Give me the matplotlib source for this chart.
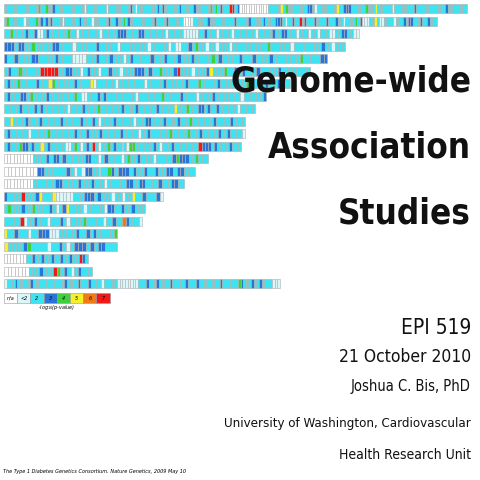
import matplotlib.pyplot as plt
from matplotlib.patches import Rectangle
from matplotlib import font_manager

# colour classes of -log10(p): w=n/a, p=<2, c=2, b=3, g=4, y=5, o=6, r=7
colors = {'w': '#ffffff', 'p': '#d9f7fb', 'c': '#3de3f0', 'b': '#2a74d6',
          'g': '#3fd13a', 'y': '#f4f02a', 'o': '#f07a1a', 'r': '#f01818'}
legend_keys = ['w', 'p', 'c', 'b', 'g', 'y', 'o', 'r']
legend_labels = ['n/a', '<2', '2', '3', '4', '5', '6', '7']

# right end (px) of each chromosome row, 1..22, X
row_ends = [467, 437, 359, 345, 327, 310, 290, 266, 255, 245, 245, 241,
            208, 195, 184, 163, 145, 142, 117, 117, 88, 92, 280]

rows = [
    "c14 g1 c2 g1 c2 b1 c12 p1 c8 p1 c9 b1 c1 p1 c8 b1 c1 b1 c6 b1 c5 b1 c6 g1 c1 g1 c1 b1 c3 r2 c1 b1 w12 c5 y1 c1 g1 c8 b2 c1 p1 c8 y1 c2 b3 c6 g1 c3 y1 c6 p1 c8 b1 c12 b1 c8",
    "c1 g1 c6 p1 c4 g1 c1 b1 c1 b1 c1 b1 c4 p1 c6 b1 c4 p1 c6 b1 c2 b1 c2 g1 c1 b1 c10 b1 c4 b1 c6 w3 p1 c6 b1 c10 b1 c5 b1 c5 b1 c4 b3 c1 p1 c2 b1 c2 r1 c1 b1 c3 b1 c4 b1 c3 b1 c2 p1 c4 g1 c1 b1 p3 c2 y1 c1 p2 c4 p1 c3 b1 c1 b2 c3 b1 c2 b1 c3",
    "c2 g1 c4 b1 c2 b1 p2 c1 b1 c6 g1 c2 p1 c7 p1 c5 b3 c4 b2 c7 p1 c5 p5 c2 b1 c3 p1 c4 p1 c7 p1 c5 b1 c2 b2 c3 p1 c3 p1 c2 p1 c3 p2 c2 b2 c2 p2",
    "b3 c1 b2 c2 g1 c5 b2 c4 p1 c6 b1 c5 p1 c8 p1 c5 p1 c1 p2 c2 b1 c1 g1 c2 p1 c2 p1 c3 p1 c10 g1 c6 p1 c5 c3 b1 c2 p1 c3",
    "b1 c2 b1 c4 b2 c5 b1 c4 p4 c3 b1 c3 b1 c3 p1 c1 b1 c5 b1 c3 b1 c3 b1 c3 b1 c5 g1 c1 b1 c5 b1 c3 b1 c4 b1 c8 g1 c5 b2",
    "c1 b1 c2 g1 c5 r5 c2 b2 c2 p1 c1 b1 c2 p1 c2 b1 c2 p1 c3 b3 c1 b1 c2 g1 c3 b1 r1 c3 p1 c3 b1 y1 c3 g1 c2 b1 c1 b1 c3 b1 c5 b1 c8",
    "c1 b1 c2 g1 c5 b1 c3 y1 g1 c6 b1 c4 y1 p1 c6 p1 c4 c4 p1 c5 b1 c6 b1 c3 g1 c5 b1 c4 c4 g1 c5 b1 c3 b1 c3",
    "c1 b1 c3 b2 c1 g1 c4 b1 c8 g1 c1 p2 c3 b1 c1 b1 c5 c4 p1 c7 g1 c5 b1 c4 p1 c4 b1 c8 p1 c6 b1",
    "c5 b1 c4 b1 c1 b1 c8 p1 c4 b1 c4 g1 c7 b1 c4 b1 c6 b1 c5 y1 c3 g1 c3 b2 c1 b1 c2 b1 c6 p1 c5",
    "c2 y1 c4 b1 c4 b1 c6 b1 c6 b1 c3 b1 c1 p1 c4 b1 c6 p1 c3 b2 c4 b1 c4 b1 c3 g1 c7 b1 c5 b1 c4",
    "c1 b1 c6 p1 c5 g1 c8 b1 c3 b1 c3 b1 c6 b1 c5 p1 c2 b1 c6 g1 c5 g1 c3 b1 c5 b1 c2 b1 c4 p1",
    "c1 b1 c3 g1 b2 c1 b1 c2 y1 c1 b1 c5 p2 c1 g1 c1 p1 c1 b1 c1 r1 c1 p1 c2 g1 c1 b1 c3 p1 g2 c6 b1 c1 p1 c3 b1 c4 c4 r1 b3 c1 b1 c4 b1 c3",
    "w9 c4 b1 c1 b2 c1 b1 c6 b2 c2 p1 c1 b1 c4 p1 c1 g1 c2 b1 c4 p1 c3 c2 b1 g1 b3 c2 g1 c3",
    "w9 b2 c6 b1 c1 p1 c1 p1 b2 c4 g1 b1 c1 b3 c1 b1 c2 b1 c2 b1 c2 b2 c1 b2 c3",
    "w9 c7 b2 c5 b1 c3 b1 c3 p1 c3 c3 b2 c2 b2 c4 b1 c3 b2 c2",
    "b1 c4 r1 c3 b1 y1 c3 y1 p5 c3 b3 c1 b1 c3 p1 c2 p1 c2 y1 c2 b1 c3 b1 p1",
    "c1 g1 c3 b1 c2 g1 c4 b1 c1 p1 c1 b1 y1 c4 p1 c3 c2 p1 b2 c2 b1 c2 b1 c3",
    "c5 r1 p1 c2 b1 c3 p1 c3 b1 c1 p1 c4 g1 c5 p1 c2 b1 c2 o1 b1 c3 p1",
    "y1 c2 b1 c3 p1 c2 b3 p3 c5 b1 c2 b1 c1 b1 c5 g1",
    "y1 c4 b1 g1 c4 p1 c2 b1 c1 p1 c1 b3 c1 b1 c1 b2 c3",
    "w7 c2 b1 c2 b1 c2 b1 c2 b1 c2 b1 c2 r1 b1 c1",
    "w7 c3 b1 c3 r1 g1 c1 b1 c1 p1 c1 b1 c3",
    "p1 c3 b1 c5 b1 c12 b1 c4 b1 c3 b1 c4 p1 c5 p8 c3 b1 c3 b1 c4 b1 c5 b1 c3 b1 c3 c5 b1 c6 g1 b1 c3 b1 c2 b1 c4 p3",
]


def parse(s):
    cells = []
    for tok in s.split():
        cells += [tok[0]] * int(tok[1:])
    return cells


fig = plt.figure(figsize=(4.8, 4.8), dpi=100)
ax = fig.add_axes([0, 0, 1, 1])
ax.set_xlim(0, 480)
ax.set_ylim(480, 0)
ax.axis('off')

x0 = 4
for i, (s, end) in enumerate(zip(rows, row_ends)):
    cells = parse(s)
    w = (end - x0) / len(cells)
    y = 4 + i * 12.5
    for j, k in enumerate(cells):
        ax.add_patch(Rectangle((x0 + j * w, y), w, 9, facecolor=colors[k],
                               edgecolor='#b0b0b0', linewidth=0.4))

# legend
for j, (k, lab) in enumerate(zip(legend_keys, legend_labels)):
    ax.add_patch(Rectangle((4 + j * 13.2, 293), 13.2, 10, facecolor=colors[k],
                           edgecolor='#999999', linewidth=0.4))
    ax.text(10.6 + j * 13.2, 298.5, lab, fontsize=3.5, style='italic',
            ha='center', va='center')
ax.text(57, 308, '-log$_{10}$(p-value)', fontsize=3.5, style='italic',
        ha='center', va='center')

names = {f.name for f in font_manager.fontManager.ttflist}
narrow = [n for n in ['Liberation Sans Narrow', 'DejaVu Sans'] if n in names]
cond = font_manager.FontProperties(family=narrow, stretch='condensed')

for txt, y in [('Genome-wide', 82), ('Association', 148), ('Studies', 213)]:
    ax.text(471, y, txt, fontproperties=cond, fontsize=25, fontweight='bold',
            ha='right', va='center', color='#111111')

for txt, y, fs in [('EPI 519', 328, 15), ('21 October 2010', 357, 12.5),
                   ('Joshua C. Bis, PhD', 386, 10.5),
                   ('University of Washington, Cardiovascular', 424, 9.5),
                   ('Health Research Unit', 455, 10)]:
    ax.text(471, y, txt, fontproperties=cond, fontsize=fs, ha='right',
            va='center', color='#111111')

ax.text(3, 471, 'The Type 1 Diabetes Genetics Consortium. Nature Genetics, 2009 May 10',
        fontproperties=cond, fontsize=4, style='italic', ha='left', va='center')

fig.savefig('out.png', dpi=100)
